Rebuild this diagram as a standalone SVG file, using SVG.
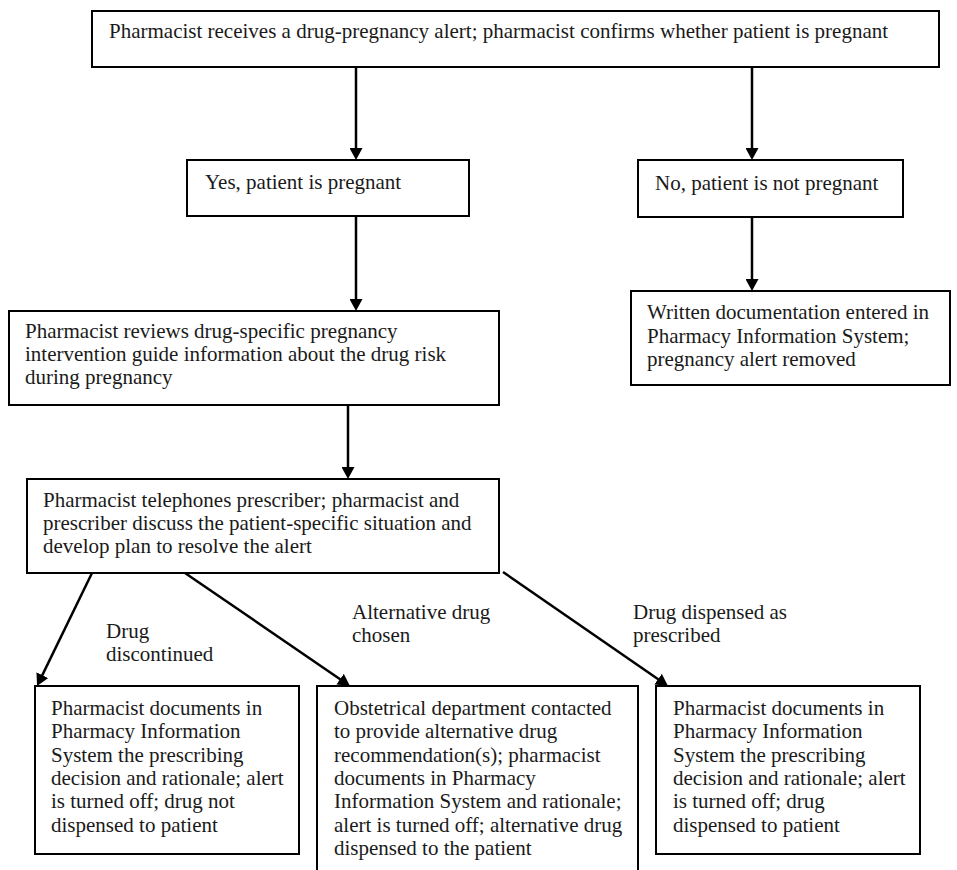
<svg xmlns="http://www.w3.org/2000/svg" width="957" height="870" viewBox="0 0 957 870">
<style>
.box{fill:#fff;stroke:#000;stroke-width:2}
.t{font-family:"Liberation Serif","Times New Roman",serif;font-size:21px;fill:#1a1a1a}
.c{stroke:#000;stroke-width:2.5;fill:none;marker-end:url(#ah)}
</style>
<defs>
<marker id="ah" viewBox="0 0 12 13" markerWidth="12" markerHeight="13" refX="8" refY="6.5" orient="auto" markerUnits="userSpaceOnUse">
<path d="M0,0 L12,6.5 L0,13 z" fill="#000"/>
</marker>
</defs>
<rect width="957" height="870" fill="#fff"/>
<g id="connectors">
<line class="c" x1="356" y1="67" x2="356" y2="156"/>
<line class="c" x1="752" y1="67" x2="752" y2="156"/>
<line class="c" x1="752" y1="217" x2="752" y2="287"/>
<line class="c" x1="356" y1="216" x2="356" y2="307"/>
<line class="c" x1="348" y1="405" x2="348" y2="475"/>
<line class="c" x1="92" y1="573" x2="38.8" y2="682.4"/>
<line class="c" x1="185" y1="573" x2="346.7" y2="683.7"/>
<line class="c" x1="503" y1="572" x2="664.7" y2="683.7"/>
<text class="t" x="106" y="638">Drug</text>
<text class="t" x="106" y="661">discontinued</text>
<text class="t" x="352" y="619">Alternative drug</text>
<text class="t" x="352" y="642">chosen</text>
<text class="t" x="633" y="619">Drug dispensed as</text>
<text class="t" x="633" y="642">prescribed</text>
</g>
<g id="n_top">
<rect class="box" x="92" y="11" width="847" height="56"/>
<text class="t" x="109" y="38">Pharmacist receives a drug-pregnancy alert; pharmacist confirms whether patient is pregnant</text>
</g>
<g id="n_yes">
<rect class="box" x="187" y="160" width="282" height="56"/>
<text class="t" x="205" y="189">Yes, patient is pregnant</text>
</g>
<g id="n_no">
<rect class="box" x="638" y="160" width="265" height="57"/>
<text class="t" x="655" y="190">No, patient is not pregnant</text>
</g>
<g id="n_written">
<rect class="box" x="631" y="291" width="319" height="94"/>
<text class="t" x="647" y="319">Written documentation entered in</text>
<text class="t" x="647" y="343">Pharmacy Information System;</text>
<text class="t" x="647" y="366">pregnancy alert removed</text>
</g>
<g id="n_review">
<rect class="box" x="9" y="311" width="490" height="94"/>
<text class="t" x="25" y="338">Pharmacist reviews drug-specific pregnancy</text>
<text class="t" x="25" y="361">intervention guide information about the drug risk</text>
<text class="t" x="25" y="384">during pregnancy</text>
</g>
<g id="n_phone">
<rect class="box" x="27" y="479" width="472" height="94"/>
<text class="t" x="43" y="507">Pharmacist telephones prescriber; pharmacist and</text>
<text class="t" x="43" y="530">prescriber discuss the patient-specific situation and</text>
<text class="t" x="43" y="553">develop plan to resolve the alert</text>
</g>
<g id="n_discontinued">
<rect class="box" x="35" y="686" width="264" height="168"/>
<text class="t" x="51" y="715">Pharmacist documents in</text>
<text class="t" x="51" y="738">Pharmacy Information</text>
<text class="t" x="51" y="762">System the prescribing</text>
<text class="t" x="51" y="785">decision and rationale; alert</text>
<text class="t" x="51" y="808">is turned off; drug not</text>
<text class="t" x="51" y="832">dispensed to patient</text>
</g>
<g id="n_alternative">
<rect class="box" x="317" y="686" width="321" height="190"/>
<text class="t" x="334" y="715">Obstetrical department contacted</text>
<text class="t" x="334" y="738">to provide alternative drug</text>
<text class="t" x="334" y="762">recommendation(s); pharmacist</text>
<text class="t" x="334" y="785">documents in Pharmacy</text>
<text class="t" x="334" y="808">Information System and rationale;</text>
<text class="t" x="334" y="832">alert is turned off; alternative drug</text>
<text class="t" x="334" y="855">dispensed to the patient</text>
</g>
<g id="n_dispensed">
<rect class="box" x="656" y="686" width="264" height="168"/>
<text class="t" x="673" y="715">Pharmacist documents in</text>
<text class="t" x="673" y="738">Pharmacy Information</text>
<text class="t" x="673" y="762">System the prescribing</text>
<text class="t" x="673" y="785">decision and rationale; alert</text>
<text class="t" x="673" y="808">is turned off; drug</text>
<text class="t" x="673" y="832">dispensed to patient</text>
</g>
</svg>
